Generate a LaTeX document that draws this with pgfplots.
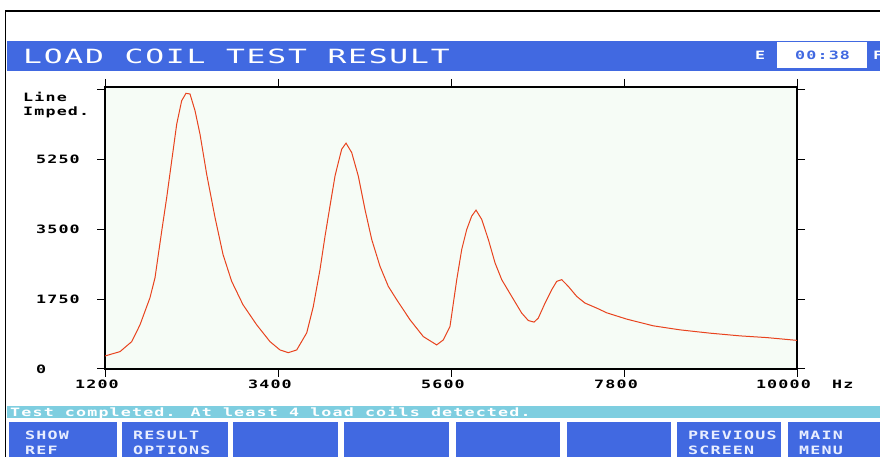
\documentclass[border=0pt]{standalone}
\usepackage{fontspec}
\usepackage{pgfplots}
\pgfplotsset{compat=1.18}
\newfontfamily\pixb{DejaVu Sans Mono}[FakeStretch=1.45,LetterSpace=10]
\newfontfamily\titlefont{DejaVu Sans Mono}[FakeStretch=1.6,LetterSpace=9]
\newcommand\tickfont{\pixb\bfseries\fontsize{11.5}{13}\selectfont}
\definecolor{titleblue}{RGB}{65,105,225}
\definecolor{statcyan}{RGB}{126,206,224}
\definecolor{plotbg}{RGB}{246,252,246}
\definecolor{curve}{RGB}{232,67,30}
\definecolor{btntext}{RGB}{232,238,255}
\begin{document}
\begin{tikzpicture}[x=1pt,y=1pt]
\path[use as bounding box] (0,0) rectangle (880,457);
\fill[white] (0,0) rectangle (880,457);
% screen border
\draw[black, line width=1.3pt] (5.5,0) -- (5.5,446) -- (880,446);
% title bar
\fill[titleblue] (6.5,386) rectangle (880,415.7);
\node[anchor=base west, inner sep=0pt, text=white, font=\titlefont\fontsize{19.6}{22}\selectfont] at (23,393) {LOAD COIL TEST RESULT};
\node[anchor=base west, inner sep=0pt, text=white, font=\tickfont] at (755,397.5) {E};
\fill[white] (777,388.5) rectangle (867,414.5);
\node[anchor=base west, inner sep=0pt, text=titleblue, font=\tickfont] at (795,397.5) {00:38};
\node[anchor=base west, inner sep=0pt, text=white, font=\tickfont] at (873,397.5) {F};
% axis labels
\node[anchor=base west, inner sep=0pt, font=\tickfont] at (23,355.5) {Line};
\node[anchor=base west, inner sep=0pt, font=\tickfont] at (23,341) {Imped.};
\node[anchor=base west, inner sep=0pt, font=\tickfont] at (832,68) {Hz};
\begin{axis}[
  at={(105pt,88pt)}, anchor=south west,
  scale only axis, width=692pt, height=282pt,
  xmin=1200, xmax=10000, ymin=0, ymax=7075,
  scaled ticks=false,
  axis background/.style={fill=plotbg},
  axis line style={line width=1.6pt, black},
  tick align=outside, major tick length=8pt,
  tick style={black, line width=1pt},
  xtick={1200,3400,5600,7800,10000},
  xticklabels={1200,3400,5600,7800,10000},
  ytick={0,1750,3500,5250,7000},
  yticklabels={0,1750,3500,5250,{}},
  tick label style={font=\tickfont},
  yticklabel style={anchor=west, inner sep=0pt, xshift=-61pt},
  xticklabel style={anchor=north east, inner sep=0pt, xshift=14pt, yshift=-2.5pt},
]
\addplot[curve, line width=1pt, no markers] coordinates {
(1200,327) (1391,436) (1540,687) (1645,1108) (1772,1788) (1836,2291)
(1921,3457) (1985,4306) (2048,5220) (2112,6144) (2175,6731) (2230,6917)
(2281,6899) (2345,6479) (2408,5892) (2493,4885) (2599,3802) (2701,2871)
(2811,2198) (2955,1612) (3129,1108) (3298,687) (3425,478) (3531,410)
(3638,478) (3765,906) (3849,1569) (3934,2493) (3998,3331) (4061,4087)
(4125,4842) (4167,5180) (4210,5514) (4265,5666) (4337,5431) (4421,4842)
(4506,4004) (4592,3248) (4697,2576) (4803,2072) (4910,1737) (5079,1234)
(5248,813) (5418,604) (5502,730) (5587,1065) (5673,2241) (5736,2996)
(5800,3500) (5863,3835) (5918,3986) (5991,3752) (6075,3248) (6160,2662)
(6245,2241) (6372,1820) (6499,1403) (6583,1216) (6656,1176) (6710,1277)
(6796,1654) (6881,1989) (6944,2198) (7008,2241) (7092,2072) (7199,1820)
(7304,1654) (7453,1528) (7580,1410) (7835,1251) (8173,1083) (8512,982)
(8894,899) (9275,831) (9615,788) (10000,718)
};
\end{axis}
% status bar
\fill[statcyan] (6.5,39.3) rectangle (880,51);
\node[anchor=base west, inner sep=0pt, text=white, font=\tickfont] at (10,40.5) {Test completed. At least 4 load coils detected.};
% buttons
\foreach \a/\b in {8.5/116.5, 121.5/227.5, 233/337.5, 344/449, 456/559.5, 567/670.5, 677/781, 788/880}{
  \fill[titleblue] (\a,0) rectangle (\b,35);
}
\foreach \x/\l/\m in {25/SHOW/REF, 133/RESULT/OPTIONS, 688/PREVIOUS/SCREEN, 799/MAIN/MENU}{
  \node[anchor=base west, inner sep=0pt, text=btntext, font=\tickfont] at (\x,17) {\l};
  \node[anchor=base west, inner sep=0pt, text=btntext, font=\tickfont] at (\x,2) {\m};
}
\end{tikzpicture}
\end{document}
